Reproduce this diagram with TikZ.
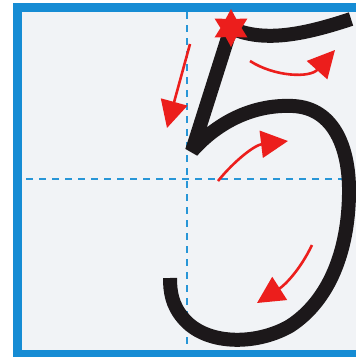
\documentclass[tikz,border=0pt]{standalone}
\usepackage{tikz}
\usetikzlibrary{arrows.meta,shapes.geometric}

\definecolor{frameblue}{RGB}{22,140,212}
\definecolor{guideblue}{RGB}{40,150,215}
\definecolor{paper}{RGB}{241,243,246}
\definecolor{hintred}{RGB}{236,30,28}
\definecolor{ink}{RGB}{28,24,26}

\begin{document}
\begin{tikzpicture}[
  x=1pt,y=-1pt,
  guide/.style={draw=guideblue,line width=1.6pt,dash pattern=on 7pt off 6pt},
  digit/.style={draw=ink,line width=14pt},
  hint/.style={draw=hintred,line width=2.6pt,
               -{Triangle[length=27pt,width=27pt]}},
  startmark/.style={star,star points=6,star point ratio=1.8,fill=hintred,
                    minimum size=38pt,inner sep=0pt}
]
\useasboundingbox (0,0) rectangle (356,357);

% frame and paper
\fill[frameblue] (13,3) rectangle (356,357);
\fill[paper] (22,12) rectangle (356,350);

% guide lines
\coordinate (G1) at (187,12);
\coordinate (G2) at (187,350);
\coordinate (G3) at (26,179);
\coordinate (G4) at (346,179);
\draw[guide] (G1)--(G2);
\draw[guide] (G3)--(G4);

% the five
\coordinate (S) at (231,28);
\coordinate (T) at (351,19);
\coordinate (K) at (192,151);
\coordinate (E) at (170,278);
\draw[digit,line cap=butt] (S) .. controls (262,42) and (300,36) .. (T);
\draw[digit,line join=bevel,line cap=butt]
  (S)--(K) .. controls (215,125) and (250,104) .. (293,106)
  .. controls (335,108) and (350,150) .. (349,195)
  .. controls (348,250) and (330,300) .. (290,326)
  .. controls (255,346) and (205,345) .. (183,318)
  .. controls (172,305) and (170,292) .. (E);
\node[startmark] (start) at (S) {};

% stroke hints
\draw[hint] (190,44)--(167,128);
\draw[hint] (250,61) .. controls (275,77) and (310,78) .. (335,50);
\draw[hint] (218,181) .. controls (235,160) and (255,145) .. (288,141);
\draw[hint] (312,245) .. controls (300,270) and (285,285) .. (257,303);
\end{tikzpicture}
\end{document}
